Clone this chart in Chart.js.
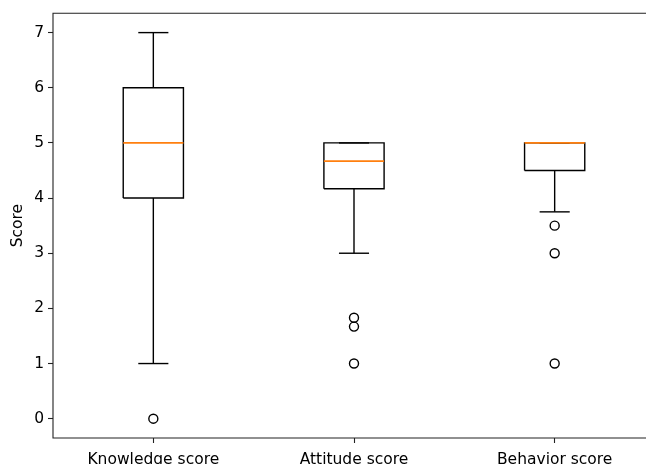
<!DOCTYPE html>
<html>
<head>
<meta charset="utf-8">
<script src="https://cdn.jsdelivr.net/npm/chart.js@4/dist/chart.umd.min.js"></script>
<style>
  html, body { margin: 0; padding: 0; background: #fff; overflow: hidden; }
  #wrap { position: absolute; left: 0; top: 0; width: 680px; height: 480px; }
</style>
</head>
<body>
<div id="wrap"><canvas id="boxChart" width="680" height="480"></canvas></div>
<script>
const categories = ['Knowledge score', 'Attitude score', 'Behavior score'];
const positions = [1, 2, 3];
const q1 = [4, 4.17, 4.5];
const medians = [5, 4.67, 5];
const q3 = [6, 5, 5];
const whiskerLow = [1, 3, 3.75];
const whiskerHigh = [7, 5, 5];
const outliers = [[0], [1.83, 1.67, 1], [3.5, 3, 1]];
const yTicks = [0, 1, 2, 3, 4, 5, 6, 7];

const boxHalf = 0.15;   // box width 0.3
const capHalf = 0.075;  // caps half the box width
const ink = '#000';
const orange = '#ff7f0e';

function seg(points, color, order, width) {
    return {
        data: points,
        showLine: true,
        borderColor: color,
        borderWidth: width || 1.4,
        pointRadius: 0,
        borderJoinStyle: 'miter',
        order: order,
        clip: false
    };
}

const datasets = [];
positions.forEach((p, i) => {
    // box outline
    datasets.push(seg([
        {x: p - boxHalf, y: q1[i]}, {x: p + boxHalf, y: q1[i]},
        {x: p + boxHalf, y: q3[i]}, {x: p - boxHalf, y: q3[i]},
        {x: p - boxHalf, y: q1[i]}
    ], ink, 2));
    // whiskers
    datasets.push(seg([{x: p, y: q1[i]}, {x: p, y: whiskerLow[i]}], ink, 2));
    datasets.push(seg([{x: p, y: q3[i]}, {x: p, y: whiskerHigh[i]}], ink, 2));
    // caps
    datasets.push(seg([{x: p - capHalf, y: whiskerLow[i]}, {x: p + capHalf, y: whiskerLow[i]}], ink, 2));
    datasets.push(seg([{x: p - capHalf, y: whiskerHigh[i]}, {x: p + capHalf, y: whiskerHigh[i]}], ink, 2));
    // median, drawn on top
    datasets.push(seg([{x: p - boxHalf, y: medians[i]}, {x: p + boxHalf, y: medians[i]}], orange, 0, 1.8));
    // fliers
    datasets.push({
        data: outliers[i].map(v => ({x: p, y: v})),
        showLine: false,
        pointRadius: 4.5,
        pointBackgroundColor: 'rgba(0,0,0,0)',
        pointBorderColor: ink,
        pointBorderWidth: 1.4,
        order: 1,
        clip: false
    });
});

// left, top and bottom spines; the right one lies outside the picture
const frame = {
    id: 'frame',
    afterDraw(chart) {
        const a = chart.chartArea;
        const c = chart.ctx;
        c.save();
        c.strokeStyle = '#222';
        c.lineWidth = 1.1;
        c.beginPath();
        c.moveTo(chart.width, a.top);
        c.lineTo(a.left, a.top);
        c.lineTo(a.left, a.bottom);
        c.lineTo(chart.width, a.bottom);
        c.stroke();
        c.restore();
    }
};

const font = {family: 'DejaVu Sans', size: 15.5};

new Chart(document.getElementById('boxChart').getContext('2d'), {
    type: 'scatter',
    data: {datasets: datasets},
    plugins: [frame],
    options: {
        responsive: false,
        animation: false,
        layout: {padding: {top: 11, right: 25, left: 0, bottom: 0}},
        plugins: {legend: {display: false}, tooltip: {enabled: false}},
        scales: {
            x: {
                type: 'linear',
                min: 0.5,
                max: 3.5,
                afterBuildTicks: s => { s.ticks = positions.map(v => ({value: v})); },
                afterFit: s => { s.height = 42; },
                ticks: {
                    color: '#000',
                    font: font,
                    padding: 8,
                    maxRotation: 0,
                    autoSkip: false,
                    callback: v => categories[positions.indexOf(v)]
                },
                grid: {drawOnChartArea: false, drawTicks: true, tickLength: 5, tickColor: '#222', tickWidth: 1.1},
                border: {display: false}
            },
            y: {
                min: -0.35,
                max: 7.35,
                afterBuildTicks: s => { s.ticks = yTicks.map(v => ({value: v})); },
                afterFit: s => { s.width = 53; },
                ticks: {color: '#000', font: font, padding: 4},
                grid: {drawOnChartArea: false, drawTicks: true, tickLength: 5, tickColor: '#222', tickWidth: 1.1},
                border: {display: false},
                title: {display: true, text: 'Score', color: '#000', font: font, padding: {top: 9, bottom: 0}}
            }
        }
    }
});
</script>
</body>
</html>
